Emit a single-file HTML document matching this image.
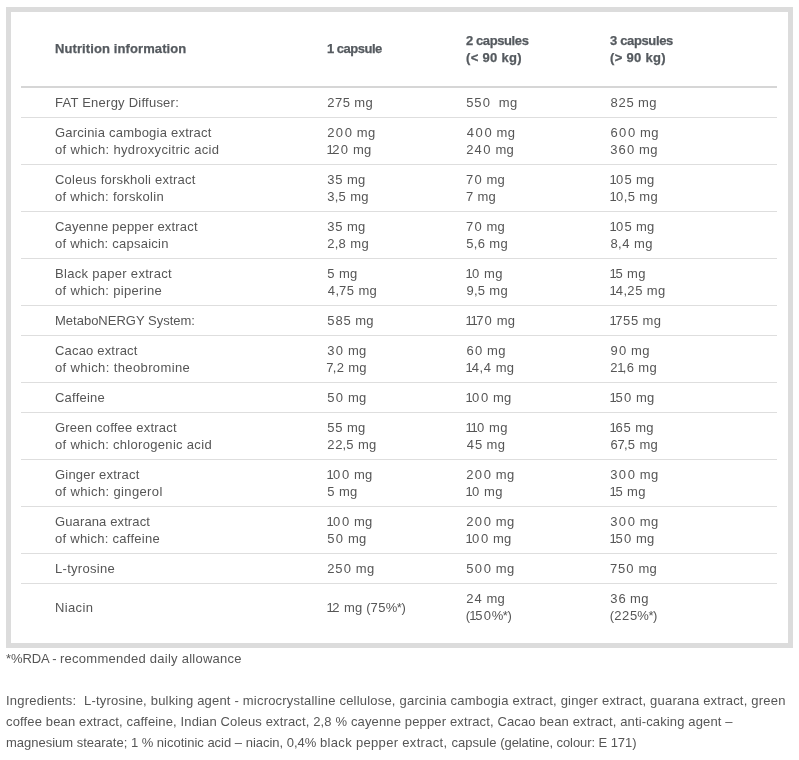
<!DOCTYPE html>
<html><head><meta charset="utf-8">
<style>
html,body{margin:0;padding:0;background:#fff;}
body{width:799px;height:760px;position:relative;overflow:hidden;font-family:"Liberation Sans",sans-serif;font-size:13px;color:#565656;}
#box{position:absolute;left:6px;top:7px;width:777px;height:631px;border:5px solid #dcdcdc;background:#fff;}
table{position:absolute;left:21px;top:21px;width:756px;border-collapse:collapse;table-layout:fixed;}
td,th{padding:6px 0 6px 0;line-height:17px;vertical-align:middle;text-align:left;font-weight:normal;border-bottom:1px solid #dedede;letter-spacing:0.3px;}
td:first-child,th:first-child{padding-left:34px;}
th{-webkit-text-stroke:0.25px #555a5f;font-weight:bold;height:55px;border-bottom:2px solid #d6d6d6;color:#555a5f;padding-top:0;padding-bottom:10px;}
tr:last-child td{border-bottom:none;}
td i{font-style:normal;letter-spacing:0.15px}
i.k0{margin:0 0.25px}
i.k1{margin:0 0.10px}
i.k2{margin:0 0.30px}
i.k3{margin:0 0.80px}
i.k4{margin:0 0.45px}
i.k5{margin:0 -1.7px 0 -0.6px}
i.k6{margin:0 0.65px}
i.k7{margin:0 0.40px}
i.k8{margin:0 -0.25px}
i.k9{margin:0 -0.65px}
i.k10{margin:0 -0.30px}
col.c1{width:306px}col.c2{width:139px}col.c3{width:144px}col.c4{width:167px}
.foot{position:absolute;left:6px;white-space:pre;line-height:21px;letter-spacing:0.3px;}
</style></head><body>
<div id="box"></div>
<table>
<colgroup><col class="c1"><col class="c2"><col class="c3"><col class="c4"></colgroup>
<tr><th><span style="letter-spacing:0.1px">Nutrition information</span></th><th><span style="letter-spacing:-0.5px">1 capsule</span></th><th><span style="letter-spacing:-0.4px">2 capsules</span><br>(&lt; 90 kg)</th><th><span style="letter-spacing:-0.35px">3 capsules</span><br>(&gt; 90 kg)</th></tr>
<tr><td><span style="letter-spacing:0.24px">FAT Energy Diffuser:</span></td><td><i class="k0">2</i><i class="k1">7</i><i class="k2">5</i> mg</td><td><i class="k2">5</i><i class="k2">5</i><i class="k3">0</i>&nbsp; mg</td><td><i class="k4">8</i><i class="k0">2</i><i class="k2">5</i> mg</td></tr>
<tr><td><span style="letter-spacing:0.22px">Garcinia cambogia extract</span><br><span style="letter-spacing:0.35px">of which: hydroxycitric acid</span></td><td><i class="k0">2</i><i class="k3">0</i><i class="k3">0</i> mg<br><i class="k5">1</i><i class="k0">2</i><i class="k3">0</i> mg</td><td><i class="k6">4</i><i class="k3">0</i><i class="k3">0</i> mg<br><i class="k0">2</i><i class="k6">4</i><i class="k3">0</i> mg</td><td><i class="k7">6</i><i class="k3">0</i><i class="k3">0</i> mg<br><i class="k2">3</i><i class="k7">6</i><i class="k3">0</i> mg</td></tr>
<tr><td><span style="letter-spacing:0.23px">Coleus forskholi extract</span><br><span style="letter-spacing:0.30px">of which: forskolin</span></td><td><i class="k2">3</i><i class="k2">5</i> mg<br><i class="k2">3</i><i class="k8">,</i><i class="k2">5</i> mg</td><td><i class="k1">7</i><i class="k3">0</i> mg<br><i class="k1">7</i> mg</td><td><i class="k5">1</i><i class="k3">0</i><i class="k2">5</i> mg<br><i class="k5">1</i><i class="k3">0</i><i class="k8">,</i><i class="k2">5</i> mg</td></tr>
<tr><td><span style="letter-spacing:0.18px">Cayenne pepper extract</span><br><span style="letter-spacing:0.24px">of which: capsaicin</span></td><td><i class="k2">3</i><i class="k2">5</i> mg<br><i class="k0">2</i><i class="k8">,</i><i class="k4">8</i> mg</td><td><i class="k1">7</i><i class="k3">0</i> mg<br><i class="k2">5</i><i class="k8">,</i><i class="k7">6</i> mg</td><td><i class="k5">1</i><i class="k3">0</i><i class="k2">5</i> mg<br><i class="k4">8</i><i class="k8">,</i><i class="k6">4</i> mg</td></tr>
<tr><td><span style="letter-spacing:0.30px">Black paper extract</span><br><span style="letter-spacing:0.33px">of which: piperine</span></td><td><i class="k2">5</i> mg<br><i class="k6">4</i><i class="k8">,</i><i class="k1">7</i><i class="k2">5</i> mg</td><td><i class="k5">1</i><i class="k3">0</i> mg<br><i class="k7">9</i><i class="k8">,</i><i class="k2">5</i> mg</td><td><i class="k5">1</i><i class="k2">5</i> mg<br><i class="k5">1</i><i class="k6">4</i><i class="k8">,</i><i class="k0">2</i><i class="k2">5</i> mg</td></tr>
<tr><td><span style="letter-spacing:-0.00px">MetaboNERGY System:</span></td><td><i class="k2">5</i><i class="k4">8</i><i class="k2">5</i> mg</td><td><i class="k5">1</i><i class="k5">1</i><i class="k1">7</i><i class="k3">0</i> mg</td><td><i class="k5">1</i><i class="k1">7</i><i class="k2">5</i><i class="k2">5</i> mg</td></tr>
<tr><td><span style="letter-spacing:0.18px">Cacao extract</span><br><span style="letter-spacing:0.38px">of which: theobromine</span></td><td><i class="k2">3</i><i class="k3">0</i> mg<br><i class="k9">7</i><i class="k8">,</i><i class="k0">2</i> mg</td><td><i class="k7">6</i><i class="k3">0</i> mg<br><i class="k5">1</i><i class="k6">4</i><i class="k8">,</i><i class="k6">4</i> mg</td><td><i class="k7">9</i><i class="k3">0</i> mg<br><i class="k0">2</i><i class="k5">1</i><i class="k8">,</i><i class="k7">6</i> mg</td></tr>
<tr><td><span style="letter-spacing:0.22px">Caffeine</span></td><td><i class="k2">5</i><i class="k3">0</i> mg</td><td><i class="k5">1</i><i class="k3">0</i><i class="k3">0</i> mg</td><td><i class="k5">1</i><i class="k2">5</i><i class="k3">0</i> mg</td></tr>
<tr><td><span style="letter-spacing:0.21px">Green coffee extract</span><br><span style="letter-spacing:0.31px">of which: chlorogenic acid</span></td><td><i class="k2">5</i><i class="k2">5</i> mg<br><i class="k0">2</i><i class="k0">2</i><i class="k8">,</i><i class="k2">5</i> mg</td><td><i class="k5">1</i><i class="k5">1</i><i class="k3">0</i> mg<br><i class="k6">4</i><i class="k2">5</i> mg</td><td><i class="k5">1</i><i class="k7">6</i><i class="k2">5</i> mg<br><i class="k7">6</i><i class="k9">7</i><i class="k8">,</i><i class="k2">5</i> mg</td></tr>
<tr><td><span style="letter-spacing:0.21px">Ginger extract</span><br><span style="letter-spacing:0.36px">of which: gingerol</span></td><td><i class="k5">1</i><i class="k3">0</i><i class="k3">0</i> mg<br><i class="k2">5</i> mg</td><td><i class="k0">2</i><i class="k3">0</i><i class="k3">0</i> mg<br><i class="k5">1</i><i class="k3">0</i> mg</td><td><i class="k2">3</i><i class="k3">0</i><i class="k3">0</i> mg<br><i class="k5">1</i><i class="k2">5</i> mg</td></tr>
<tr><td><span style="letter-spacing:0.12px">Guarana extract</span><br><span style="letter-spacing:0.26px">of which: caffeine</span></td><td><i class="k5">1</i><i class="k3">0</i><i class="k3">0</i> mg<br><i class="k2">5</i><i class="k3">0</i> mg</td><td><i class="k0">2</i><i class="k3">0</i><i class="k3">0</i> mg<br><i class="k5">1</i><i class="k3">0</i><i class="k3">0</i> mg</td><td><i class="k2">3</i><i class="k3">0</i><i class="k3">0</i> mg<br><i class="k5">1</i><i class="k2">5</i><i class="k3">0</i> mg</td></tr>
<tr><td><span style="letter-spacing:0.29px">L-tyrosine</span></td><td><i class="k0">2</i><i class="k2">5</i><i class="k3">0</i> mg</td><td><i class="k2">5</i><i class="k3">0</i><i class="k3">0</i> mg</td><td><i class="k1">7</i><i class="k2">5</i><i class="k3">0</i> mg</td></tr>
<tr><td><span style="letter-spacing:0.36px">Niacin</span></td><td><i class="k5">1</i><i class="k0">2</i> mg <i class="k10">(</i><i class="k1">7</i><i class="k2">5</i><i class="k10">%</i><i class="k10">*</i><i class="k10">)</i></td><td><i class="k0">2</i><i class="k6">4</i> mg<br><i class="k10">(</i><i class="k5">1</i><i class="k2">5</i><i class="k3">0</i><i class="k10">%</i><i class="k10">*</i><i class="k10">)</i></td><td><i class="k2">3</i><i class="k7">6</i> mg<br><i class="k10">(</i><i class="k0">2</i><i class="k0">2</i><i class="k2">5</i><i class="k10">%</i><i class="k10">*</i><i class="k10">)</i></td></tr>
</table>
<div class="foot" style="top:648px"><span style="letter-spacing:-0.113px">*%RDA - </span><span style="letter-spacing:0.255px">recommended daily allowance</span></div>
<div class="foot" style="top:690px"><span style="letter-spacing:0.202px">Ingredients:&nbsp; L-tyrosine, bulking agent - microcrystalline cellulose, </span><span style="letter-spacing:0.216px">garcinia cambogia extract, ginger extract, guarana extract, green</span></div>
<div class="foot" style="top:711px"><span style="letter-spacing:0.144px">coffee bean extract, caffeine, Indian Coleus extract, 2,8 % cayenne pepper extract, </span><span style="letter-spacing:0.137px">Cacao bean extract, anti-caking agent –</span></div>
<div class="foot" style="top:732px"><span style="letter-spacing:-0.006px">magnesium stearate; 1 % nicotinic acid – niacin, 0,4% </span><span style="letter-spacing:0.323px">black pepper extract, </span><span style="letter-spacing:0.047px">capsule </span><span style="letter-spacing:-0.072px">(gelatine, colour: E 171)</span></div>
</body></html>
